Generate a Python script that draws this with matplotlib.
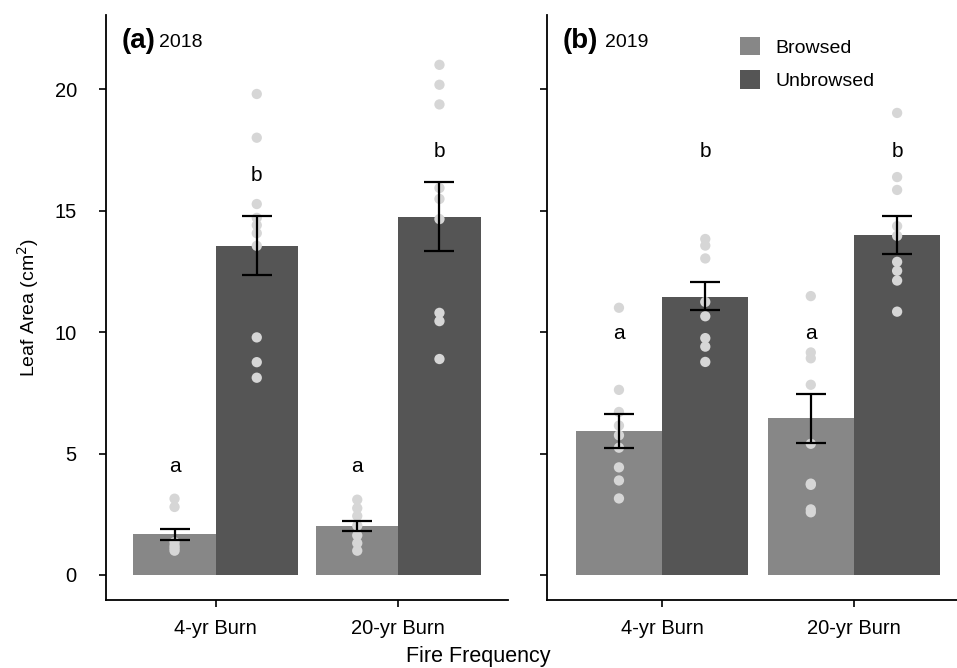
import numpy as np
from matplotlib import pyplot as plt
from matplotlib.patches import Patch

plt.rcParams['font.family'] = ['Liberation Sans', 'DejaVu Sans']

burns = ["4-yr Burn", "20-yr Burn"]
treatments = ["Browsed", "Unbrowsed"]
colors = ["#878787", "#555555"]

# means [burn][treatment], standard errors (lo, hi) and raw points
mean_2018 = [[1.68, 13.55], [2.0, 14.75]]
err_lo_2018 = [[1.46, 12.36], [1.81, 13.35]]
err_hi_2018 = [[1.91, 14.78], [2.23, 16.17]]
pts_2018 = [
    [[3.14, 2.8, 1.35, 1.2, 1.1, 1.0],
     [19.8, 18.0, 15.27, 14.7, 14.4, 14.07, 13.55, 9.78, 8.76, 8.12]],
    [[3.1, 2.75, 2.43, 2.03, 1.63, 1.31, 1.0],
     [21.0, 20.18, 19.37, 15.93, 15.48, 14.65, 10.79, 10.45, 8.89]],
]
letters_2018 = [["a", "b"], ["a", "b"]]
letter_y_2018 = [[4.45, 16.45], [4.45, 17.43]]

mean_2019 = [[5.92, 11.45], [6.45, 13.99]]
err_lo_2019 = [[5.24, 10.89], [5.44, 13.22]]
err_hi_2019 = [[6.63, 12.04], [7.46, 14.79]]
pts_2019 = [
    [[11.0, 7.62, 6.71, 6.15, 5.75, 5.24, 4.43, 3.89, 3.15],
     [13.83, 13.56, 13.03, 11.24, 10.65, 9.75, 9.4, 8.77]],
    [[11.48, 9.16, 8.92, 7.83, 5.4, 3.76, 3.71, 2.7, 2.58],
     [19.02, 16.38, 15.85, 14.36, 13.96, 12.89, 12.52, 12.12, 10.84]],
]
letters_2019 = [["a", "b"], ["a", "b"]]
letter_y_2019 = [[9.95, 17.43], [9.95, 17.43]]


def draw_panel(ax, means, lo, hi, pts, letters, letter_y, tag, year, year_x):
    width = 0.45
    for i in range(len(burns)):
        for j in range(len(treatments)):
            x = i + 1 + (j - 0.5) * width
            ax.bar(x, means[i][j], width, color=colors[j], zorder=1)
            ax.scatter([x] * len(pts[i][j]), pts[i][j], s=55, color="#d6d6d6",
                       edgecolors="none", zorder=2)
            ax.errorbar(x, means[i][j],
                        yerr=[[means[i][j] - lo[i][j]], [hi[i][j] - means[i][j]]],
                        fmt="none", ecolor="black", elinewidth=1.6,
                        capsize=10.5, capthick=1.6, zorder=3)
            ax.text(x, letter_y[i][j], letters[i][j], ha="center", va="center",
                    fontsize=15)
    ax.set_xlim(0.4, 2.6)
    ax.set_ylim(-1.03, 23.05)
    ax.set_xticks([1, 2])
    ax.set_xticklabels(burns)
    ax.set_yticks([0, 5, 10, 15, 20])
    for s in ["top", "right"]:
        ax.spines[s].set_visible(False)
    for s in ["left", "bottom"]:
        ax.spines[s].set_linewidth(1.3)
    ax.tick_params(labelsize=14.5, length=5, width=1.2)
    ax.tick_params(axis="x", pad=9)
    ax.tick_params(axis="y", pad=16)
    ax.text(0.038, 0.955, tag, transform=ax.transAxes, fontsize=20,
            fontweight="bold", va="center")
    ax.text(year_x, 0.953, year, transform=ax.transAxes, fontsize=14,
            va="center")


fig = plt.figure(figsize=(9.57, 6.68), dpi=100)
ax1 = fig.add_axes([0.1108, 0.1018, 0.420, 0.8757])
ax2 = fig.add_axes([0.5716, 0.1018, 0.441, 0.8757])

draw_panel(ax1, mean_2018, err_lo_2018, err_hi_2018, pts_2018,
           letters_2018, letter_y_2018, "(a)", "2018", 0.133)
draw_panel(ax2, mean_2019, err_lo_2019, err_hi_2019, pts_2019,
           letters_2019, letter_y_2019, "(b)", "2019", 0.137)
ax2.set_yticklabels([])

ax1.set_ylabel("Leaf Area (cm$^2$)", fontsize=14, labelpad=10)
fig.text(0.5, 0.017, "Fire Frequency", ha="center", va="center", fontsize=15.5)

handles = [Patch(facecolor=c, label=t) for c, t in zip(colors, treatments)]
ax2.legend(handles=handles, loc="upper left", bbox_to_anchor=(0.415, 0.992),
           frameon=False, fontsize=14, handlelength=1.05, handleheight=1.05,
           labelspacing=0.7, handletextpad=0.8)

fig.savefig("out.png", dpi=100)
